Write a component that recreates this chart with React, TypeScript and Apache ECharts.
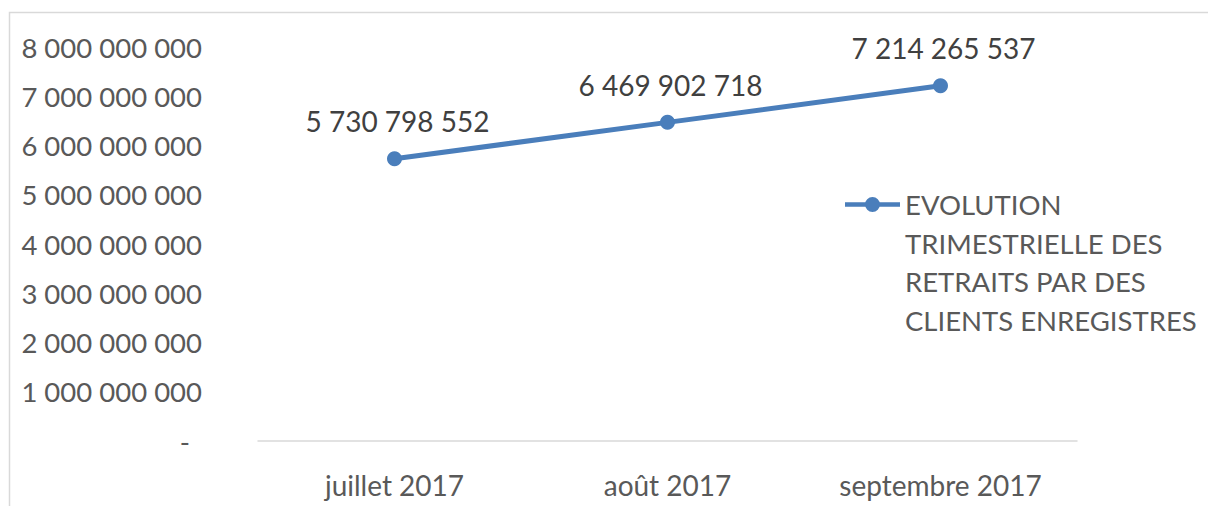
import React, { useEffect, useRef } from "react";
import * as echarts from "echarts";

const categories = ["juillet 2017", "août 2017", "septembre 2017"];
const values = [5730798552, 6469902718, 7214265537];
const seriesName = "EVOLUTION\nTRIMESTRIELLE DES\nRETRAITS PAR DES\nCLIENTS ENREGISTRES";

const fmt = (v: number) =>
  Math.round(v)
    .toString()
    .replace(/\B(?=(\d{3})+(?!\d))/g, " ");

const FONT = "Lato";
const FS = 28;
const LEGEND_ICON =
  "path://M0,5.25 L55,5.25 L55,9.75 L0,9.75 Z M20,7.5 A7.5,7.5 0 1 1 35,7.5 A7.5,7.5 0 1 1 20,7.5 Z";

export default function App() {
  const ref = useRef<HTMLDivElement>(null);
  useEffect(() => {
    const chart = echarts.init(ref.current!, undefined, { renderer: "svg" });
    chart.setOption({
      animation: false,
      backgroundColor: "#ffffff",
      textStyle: { fontFamily: FONT },
      graphic: [
        {
          type: "rect",
          shape: { x: 9.5, y: 12.5, width: 1220, height: 520 },
          style: { fill: "none", stroke: "#d9d9d9", lineWidth: 1.5 },
          silent: true,
        },
      ],
      grid: { left: 258, right: 131, top: 47, bottom: 65 },
      legend: {
        orient: "vertical",
        left: 845,
        top: 69,
        padding: 0,
        itemWidth: 55,
        itemHeight: 15,
        data: [{ name: seriesName, icon: LEGEND_ICON }],
        formatter: (name: string) => "\n\n\n" + name,
        textStyle: {
          fontFamily: FONT,
          fontSize: 27.5,
          color: "#595959",
          lineHeight: 38.7,
        },
      },
      xAxis: {
        type: "category",
        data: categories,
        boundaryGap: true,
        axisLine: { lineStyle: { color: "#d9d9d9", width: 1.5 } },
        axisTick: { show: false },
        axisLabel: { fontFamily: FONT, fontSize: FS, color: "#595959", margin: 30 },
      },
      yAxis: {
        type: "value",
        min: 0,
        max: 8e9,
        interval: 1e9,
        axisLine: { show: false },
        axisTick: { show: false },
        splitLine: { show: false },
        axisLabel: {
          fontFamily: FONT,
          fontSize: 27.5,
          color: "#595959",
          margin: 56,
          formatter: (v: number) => (v === 0 ? "{d|-}" : fmt(v)),
          rich: { d: { fontFamily: FONT, fontSize: 27.5, color: "#595959", padding: [0, 12, 0, 0] } },
        },
      },
      series: [
        {
          type: "line",
          name: seriesName,
          data: values,
          symbol: "circle",
          symbolSize: 15,
          lineStyle: { color: "#4a7ebb", width: 5 },
          itemStyle: { color: "#4a7ebb" },
          label: {
            show: true,
            position: "top",
            distance: 16,
            offset: [3, 0],
            fontFamily: FONT,
            fontSize: FS,
            color: "#404040",
            formatter: (p: any) => fmt(p.value),
          },
        },
      ],
    });
    return () => chart.dispose();
  }, []);
  return (
    <div
      ref={ref}
      style={{ position: "fixed", left: 0, top: 0, width: 1208, height: 506 }}
    />
  );
}
